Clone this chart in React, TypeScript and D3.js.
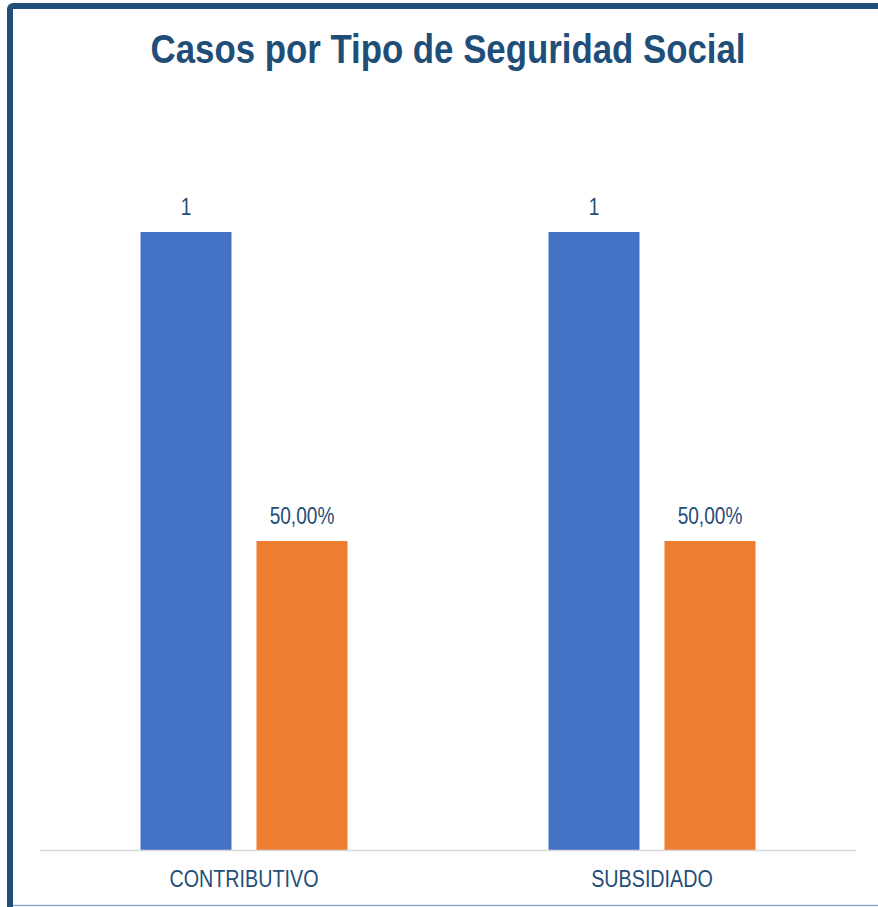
import React from "react";
import * as d3 from "d3";

const categories = ["CONTRIBUTIVO", "SUBSIDIADO"];
const seriesNames = ["Casos", "Porcentaje"];
const casos = [1, 1];
const porcentaje = [0.5, 0.5];
const title = "Casos por Tipo de Seguridad Social";

const W = 878;
const H = 907;
const FONT = "'Liberation Sans', Arial, sans-serif";
const TEXT = "#1F4E79";
const COLORS = ["#4472C4", "#ED7D31"];

function NarrowText(props: {
  x: number;
  y: number;
  sx: number;
  size: number;
  bold?: boolean;
  children: React.ReactNode;
}) {
  return (
    <g transform={`translate(${props.x},${props.y}) scale(${props.sx},1)`}>
      <text
        x={0}
        y={0}
        textAnchor="middle"
        fontSize={props.size}
        fontWeight={props.bold ? "bold" : "normal"}
        fill={TEXT}
      >
        {props.children}
      </text>
    </g>
  );
}

export default function App() {
  const left = 40;
  const right = 856;
  const baseline = 850;
  const x0 = d3.scaleBand<string>().domain(categories).range([left, right]).paddingInner(0).paddingOuter(0);
  const x1 = d3
    .scaleBand<string>()
    .domain(seriesNames)
    .range([100.5, 307.5])
    .paddingInner(25 / 116)
    .paddingOuter(0);
  const y = d3.scaleLinear().domain([0, 1.2]).range([baseline, baseline - 618 * 1.2]);

  const values = [casos, porcentaje];
  const fmt = [(v: number) => d3.format("d")(v), (v: number) => d3.format(".2f")(v * 100).replace(".", ",") + "%"];

  return (
    <svg
      width={W}
      height={H}
      style={{ position: "absolute", left: 0, top: 0, background: "#fff" }}
      fontFamily={FONT}
    >
      <rect x={0} y={0} width={W} height={H} fill="#fff" />
      <rect x={10} y={6} width={920} height={960} rx={3} fill="none" stroke={TEXT} strokeWidth={6} />
      <line x1={13} x2={W} y1={905.5} y2={905.5} stroke="#8EAACB" strokeWidth={1.5} />
      <NarrowText x={448} y={63} sx={0.87} size={40} bold>
        {title}
      </NarrowText>
      {categories.map((c, ci) => (
        <g key={c}>
          {seriesNames.map((s, si) => {
            const v = values[si][ci];
            const bx = (x0(c) as number) + (x1(s) as number);
            return (
              <g key={s}>
                <rect x={bx} y={y(v)} width={x1.bandwidth()} height={baseline - y(v)} fill={COLORS[si]} />
                <NarrowText x={bx + x1.bandwidth() / 2} y={y(v) - 17} sx={0.83} size={23}>
                  {fmt[si](v)}
                </NarrowText>
              </g>
            );
          })}
          <NarrowText x={(x0(c) as number) + x0.bandwidth() / 2} y={887} sx={0.84} size={23.5}>
            {c}
          </NarrowText>
        </g>
      ))}
      <line x1={left} x2={right} y1={baseline + 0.5} y2={baseline + 0.5} stroke="#D9D9D9" strokeWidth={1.5} />
    </svg>
  );
}
